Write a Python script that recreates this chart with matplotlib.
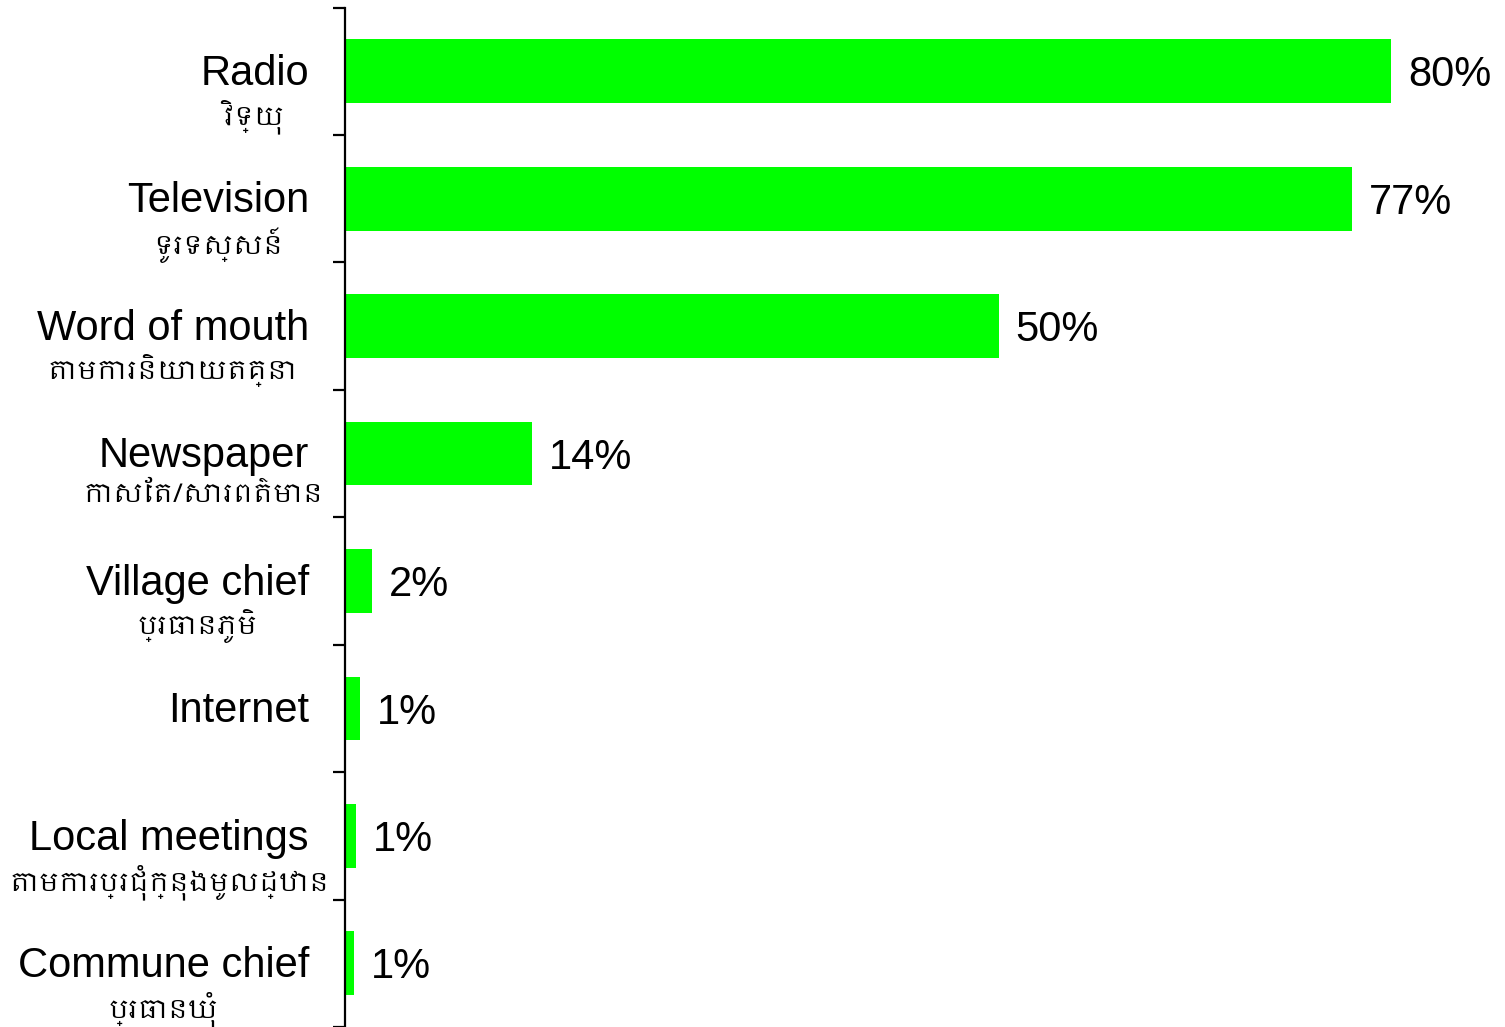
import numpy as np
import matplotlib
import matplotlib.pyplot as plt
from matplotlib import font_manager
import matplotlib.transforms as mtransforms

labels_en = ["Radio", "Television", "Word of mouth", "Newspaper",
             "Village chief", "Internet", "Local meetings", "Commune chief"]
labels_km = ["វិទ្យុ", "ទូរទស្សន៍", "តាមការនិយាយតគ្នា", "កាសែត/សារពត៌មាន",
             "ប្រធានភូមិ", "", "តាមការប្រជុំក្នុងមូលដ្ឋាន", "ប្រធានឃុំ"]
values = [80, 77, 50, 14.3, 2.1, 1.15, 0.85, 0.7]
value_labels = ["80%", "77%", "50%", "14%", "2%", "1%", "1%", "1%"]

# pick a Khmer capable font if one is around
khmer_fams = sorted({f.name for f in font_manager.fontManager.ttflist
                     if "khmer" in f.name.lower()})
km_family = khmer_fams + ["Liberation Sans", "DejaVu Sans"]
plt.rcParams['font.family'] = ["Liberation Sans", "DejaVu Sans"]

fig = plt.figure(figsize=(15.05, 10.27), dpi=100)
ax = fig.add_axes([345 / 1505, 0.0, 1 - 345 / 1505, 1 - 7.5 / 1027])

n = len(values)
y = np.arange(n)
ax.barh(y, values, height=0.5, color="#00ff00", zorder=2)
ax.set_ylim(n - 0.5, -0.5)
ax.set_xlim(0, 88.7)

for yi, v, lab in zip(y, values, value_labels):
    ax.annotate(lab, (v, yi), xytext=(12, -3), textcoords="offset points",
                va="center", ha="left", fontsize=30)

# English label at the bar, Khmer line centred underneath it
trans = mtransforms.blended_transform_factory(ax.transAxes, ax.transData)
for yi, en, km in zip(y, labels_en, labels_km):
    t = ax.annotate(en, (0, yi), xycoords=trans, xytext=(-26, -2),
                    textcoords="offset points", ha="right", va="center",
                    fontsize=30)
    if km:
        ax.annotate(km, (0.5, 0), xycoords=t, xytext=(0, -4),
                    textcoords="offset points", ha="center", va="top",
                    fontsize=19, family=km_family)

for s in ["top", "right", "bottom"]:
    ax.spines[s].set_visible(False)
ax.spines["left"].set_linewidth(1.6)
ax.set_xticks([])
ax.set_yticks([])
ax.set_yticks(np.arange(n + 1) - 0.5, minor=True)
ax.tick_params(axis="y", which="minor", length=9, width=1.6, direction="out")
ax.tick_params(axis="y", which="major", length=0)

fig.savefig("out.png", dpi=100)
